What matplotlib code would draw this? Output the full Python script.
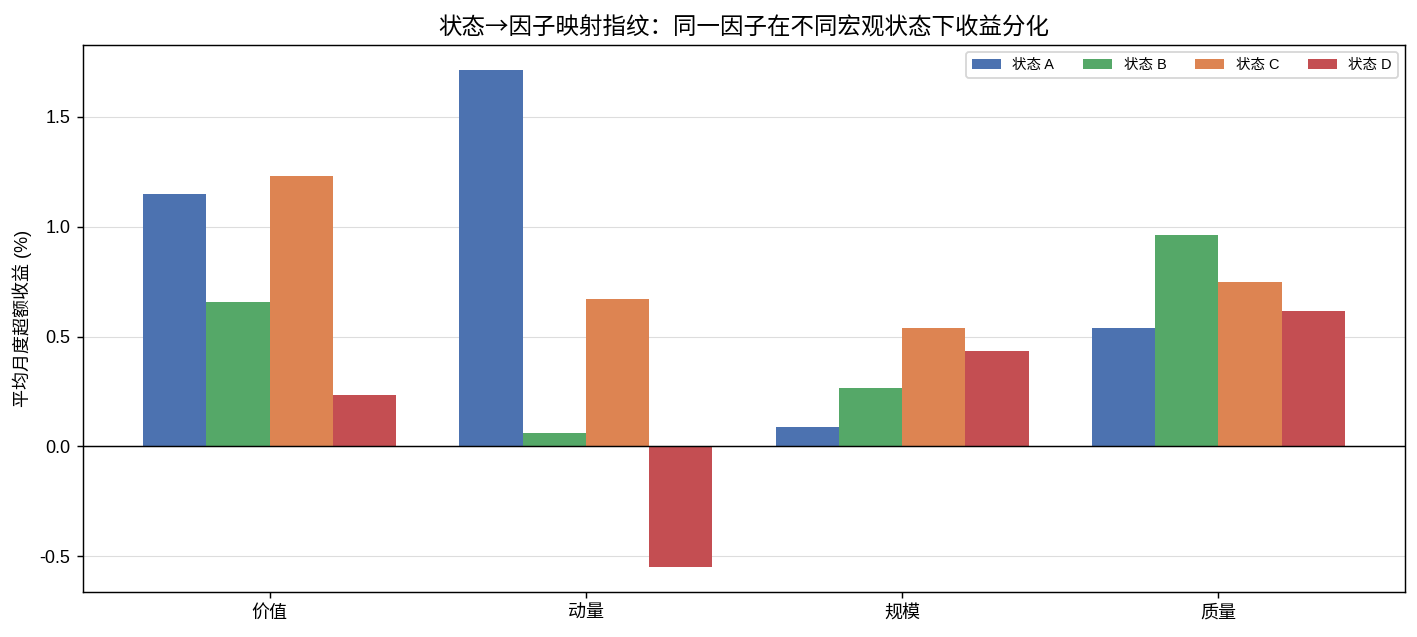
import matplotlib
matplotlib.use("Agg")
import matplotlib.pyplot as plt
import numpy as np

plt.rcParams['font.family'] = ['Liberation Sans', 'Noto Sans CJK SC', 'DejaVu Sans']
plt.rcParams['axes.unicode_minus'] = False

factors = ['价值', '动量', '规模', '质量']
states = ['状态 A', '状态 B', '状态 C', '状态 D']
state_a = [1.15, 1.714, 0.086, 0.541]
state_b = [0.655, 0.059, 0.264, 0.964]
state_c = [1.23, 0.673, 0.541, 0.75]
state_d = [0.232, -0.55, 0.432, 0.614]
colors = ['#4C72B0', '#55A868', '#DD8452', '#C44E52']

series = [state_a, state_b, state_c, state_d]

DPI = 130
fig = plt.figure(figsize=(1417 / DPI, 637 / DPI), dpi=DPI)
ax = fig.add_axes([0.0586, 0.0706, 0.9329, 0.8588])

x = np.arange(len(factors))
w = 0.2
for i, (vals, lab, c) in enumerate(zip(series, states, colors)):
    ax.bar(x + (i - 1.5) * w, vals, width=w, color=c, label=lab, zorder=2)

ax.axhline(0, color='black', linewidth=0.8, zorder=3)
ax.yaxis.grid(True, color='#dddddd', linewidth=0.6, zorder=0)
ax.set_axisbelow(True)
ax.set_xticks(x)
ax.set_xticklabels(factors, fontsize=10)
ax.tick_params(axis='y', labelsize=10)
ax.set_ylabel('平均月度超额收益 (%)', fontsize=10)
ax.set_title('状态→因子映射指纹：同一因子在不同宏观状态下收益分化', fontsize=13,
             family=['Noto Sans CJK SC', 'DejaVu Sans'])
ax.legend(loc='upper right', ncol=4, fontsize=8)

fig.savefig('out.png', dpi=DPI)
